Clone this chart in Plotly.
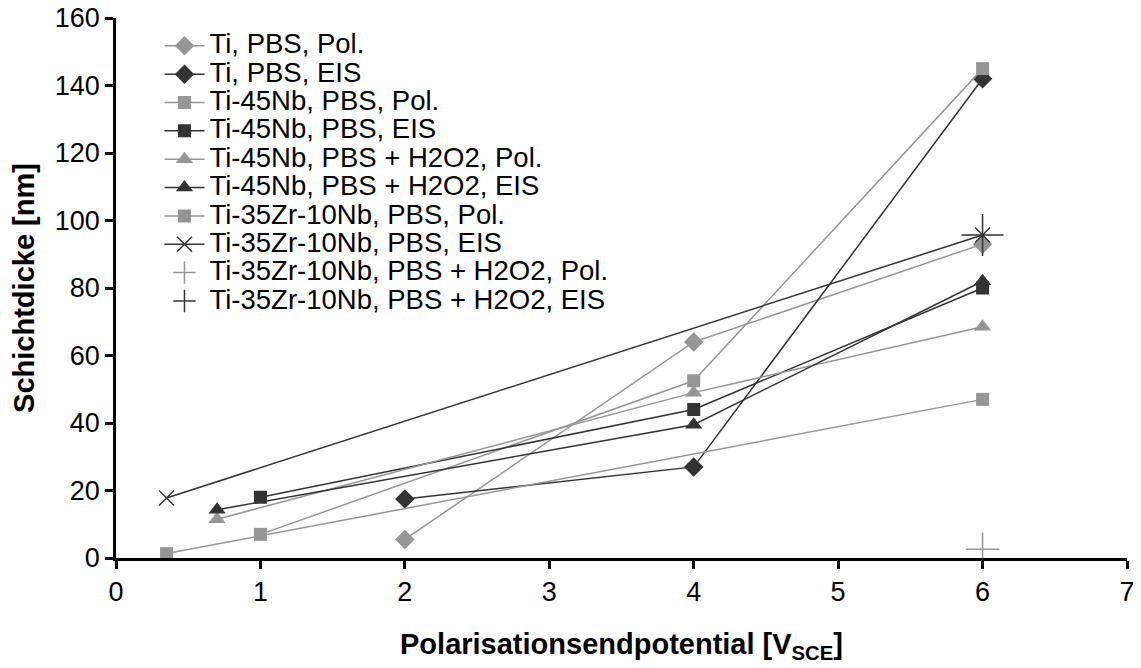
import plotly.graph_objects as go

names = [
    "Ti, PBS, Pol.",
    "Ti, PBS, EIS",
    "Ti-45Nb, PBS, Pol.",
    "Ti-45Nb, PBS, EIS",
    "Ti-45Nb, PBS + H2O2, Pol.",
    "Ti-45Nb, PBS + H2O2, EIS",
    "Ti-35Zr-10Nb, PBS, Pol.",
    "Ti-35Zr-10Nb, PBS, EIS",
    "Ti-35Zr-10Nb, PBS + H2O2, Pol.",
    "Ti-35Zr-10Nb, PBS + H2O2, EIS",
]

ti_pbs_pol_x = [2, 4, 6]
ti_pbs_pol_y = [5.5, 64, 93]
ti_pbs_eis_x = [2, 4, 6]
ti_pbs_eis_y = [17.5, 27, 142]
nb_pbs_pol_x = [1, 4, 6]
nb_pbs_pol_y = [7, 52.5, 145]
nb_pbs_eis_x = [1, 4, 6]
nb_pbs_eis_y = [18, 44, 80]
nb_h2o2_pol_x = [0.7, 4, 6]
nb_h2o2_pol_y = [11.5, 49, 68.5]
nb_h2o2_eis_x = [0.7, 4, 6]
nb_h2o2_eis_y = [14.3, 39.5, 82]
zr_pbs_pol_x = [0.35, 6]
zr_pbs_pol_y = [1.3, 47]
zr_pbs_eis_x = [0.35, 6]
zr_pbs_eis_y = [17.8, 95.7]
zr_h2o2_pol_x = [6]
zr_h2o2_pol_y = [2.6]
zr_h2o2_eis_x = [6]
zr_h2o2_eis_y = [95.7]

x_ticks = [0, 1, 2, 3, 4, 5, 6, 7]
y_ticks = [0, 20, 40, 60, 80, 100, 120, 140, 160]

LIGHT = "#969696"
DARK = "#333333"

series = [
    (ti_pbs_pol_x, ti_pbs_pol_y, LIGHT, "diamond", 15, "lines+markers"),
    (ti_pbs_eis_x, ti_pbs_eis_y, DARK, "diamond", 15, "lines+markers"),
    (nb_pbs_pol_x, nb_pbs_pol_y, LIGHT, "square", 13, "lines+markers"),
    (nb_pbs_eis_x, nb_pbs_eis_y, DARK, "square", 13, "lines+markers"),
    (nb_h2o2_pol_x, nb_h2o2_pol_y, LIGHT, "triangle-up", 15, "lines+markers"),
    (nb_h2o2_eis_x, nb_h2o2_eis_y, DARK, "triangle-up", 15, "lines+markers"),
    (zr_pbs_pol_x, zr_pbs_pol_y, LIGHT, "square", 13, "lines+markers"),
    (zr_pbs_eis_x, zr_pbs_eis_y, DARK, "x-thin", 15, "lines+markers"),
    (zr_h2o2_pol_x, zr_h2o2_pol_y, LIGHT, "cross-thin", 24, "markers"),
    (zr_h2o2_eis_x, zr_h2o2_eis_y, DARK, "cross-thin", 30, "markers"),
]

LEG_TXT = 27.5

fig = go.Figure()
for name, (xs, ys, col, sym, sz, mode) in zip(names, series):
    thin = sym.endswith("-thin")
    fig.add_trace(go.Scatter(
        x=xs, y=ys, mode=mode,
        name=f"<span style='font-size:{LEG_TXT}px'>{name}</span>",
        line=dict(color=col, width=1.5),
        marker=dict(symbol=sym, size=sz, color=col,
                    line=dict(color=col, width=1.5 if thin else 0)),
        cliponaxis=False,
    ))

font = "Liberation Sans, Arial, sans-serif"
# page body has an 8px default margin, so the figure is shrunk by 8px
fig.update_layout(
    width=1133, height=660,
    margin=dict(l=108, r=14, t=10, b=110, autoexpand=False),
    paper_bgcolor="white", plot_bgcolor="white",
    font=dict(family=font, size=27, color="black"),
    showlegend=True,
    legend=dict(x=0.043, y=0.984, xanchor="left", yanchor="top",
                bgcolor="rgba(0,0,0,0)", font=dict(size=19.5),
                tracegroupgap=0, itemsizing="trace", itemwidth=40),
    xaxis=dict(range=[0, 7], tickvals=x_ticks, showgrid=False, zeroline=False,
               automargin=False, ticklabeloverflow="allow",
               showline=True, linecolor="black", linewidth=2.5,
               ticks="outside", ticklen=8, tickwidth=2.5, tickcolor="black",
               tickfont=dict(size=27),
               title=dict(text="<b>Polarisationsendpotential [V<sub>SCE</sub>]</b>",
                          font=dict(size=29), standoff=28)),
    yaxis=dict(range=[0, 160], tickvals=y_ticks, showgrid=False, zeroline=False,
               automargin=False, ticklabeloverflow="allow",
               showline=True, linecolor="black", linewidth=2.5,
               ticks="outside", ticklen=8, tickwidth=2.5, tickcolor="black",
               tickfont=dict(size=27),
               title=dict(text="<b>Schichtdicke [nm]</b>", font=dict(size=29), standoff=16)),
)

fig.write_html("out.html")
